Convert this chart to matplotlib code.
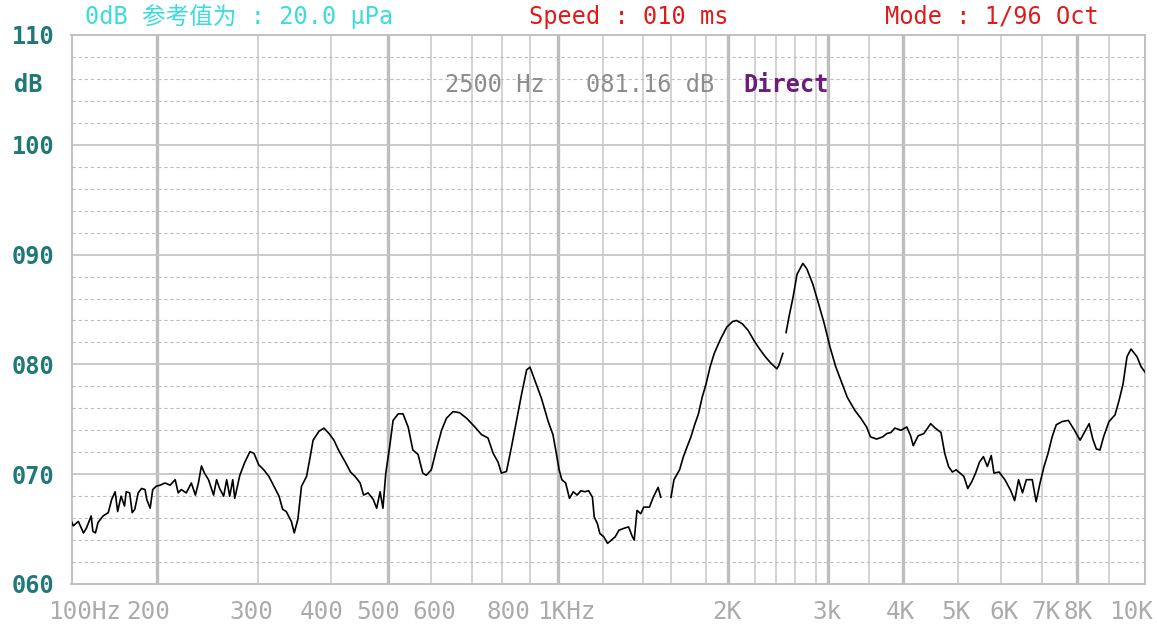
import numpy as np
import matplotlib
matplotlib.use("Agg")
import matplotlib.pyplot as plt

nan = np.nan

# analyser screen grid: frequency of each vertical line
grid_hz = [100, 200, 300, 400, 500, 600, 700, 800, 900, 1000,
           1200, 1400, 1600, 1800, 2000, 2200, 2400, 2600, 2800, 3000,
           3500, 4000, 5000, 6000, 7000, 8000, 9000, 10000]
heavy_hz = [200, 500, 1000, 2000, 3000, 4000, 8000]

tick_hz = [100, 200, 300, 400, 500, 600, 800, 1000, 2000, 3000,
           4000, 5000, 6000, 7000, 8000, 10000]
tick_txt = ["100Hz", "200", "300", "400", "500", "600", "800", "1KHz", "2K", "3k",
            "4K", "5K", "6K", "7K", "8K", "10K"]

ytick_db = [60, 70, 80, 90, 100, 110]
ytick_txt = ["060", "070", "080", "090", "100", "110"]

# measured spectrum (1/96 oct), nan = gap in trace
freq_hz = [100, 102, 108, 114, 117.5, 123, 125, 128, 131, 137, 143, 147, 151, 154, 158, 162,
           164, 168, 171, 174, 178, 182, 186, 188, 192, 195, 199, 203, 208, 213, 218, 221,
           224, 229, 234, 238, 241, 244, 247, 251, 256, 259, 262, 266, 269, 272, 275, 277,
           282, 287, 292, 296, 301, 308, 315, 322, 329, 334, 339, 346, 350, 355, 360, 367,
           372, 376, 384, 391, 398, 406, 414, 426, 435, 443, 452, 458, 466, 475, 481, 487,
           492, 497, 505, 513, 525, 536, 548, 559, 571, 582, 590, 602, 614, 627, 639, 655,
           671, 688, 711, 733, 754, 771, 787, 798, 816, 834, 852, 870, 888, 900, 918, 941,
           965, 982, 994,
           1005, 1017, 1034, 1051, 1068, 1085, 1102, 1119, 1136, 1153, 1161, 1175, 1186,
           1204, 1223, 1242, 1261, 1280, 1309, 1328, 1347, 1356, 1370, 1389, 1405, 1446,
           1473, 1508, 1527, 1560,
           1600, 1617, 1649, 1671, 1692, 1714, 1735, 1757, 1778, 1800, 1838, 1875, 1932,
           1989, 2034, 2063, 2106, 2149, 2191, 2244, 2298, 2353, 2409, 2430, 2472, 2490,
           2506, 2536, 2579, 2619, 2675, 2713, 2770, 2844, 2938, 3024, 3095, 3167, 3238,
           3286, 3333, 3405, 3476, 3529, 3618, 3706, 3765, 3824, 3882, 3971, 4069, 4138,
           4186, 4276, 4379, 4503, 4586, 4690, 4759, 4828, 4897, 4966, 5045, 5136, 5227,
           5318, 5409, 5500, 5591, 5682, 5773, 5836, 5955, 6095, 6238, 6333, 6429, 6524,
           6619, 6762, 6857, 6952, 7059, 7176, 7294, 7412, 7588, 7765, 7941, 8111, 8278,
           8389, 8500, 8611, 8722, 8833, 9000, 9167, 9278, 9389, 9500, 9611, 9778, 9889,
           10000]
level_db = [65.7, 65.3, 65.7, 64.65, 65.1, 66.2, 64.8, 64.65, 65.6, 66.2, 66.5, 67.7, 68.4, 66.6, 68.0, 67.1,
            68.4, 68.3, 66.5, 66.8, 68.3, 68.7, 68.6, 67.7, 66.9, 68.6, 68.9, 69.0, 69.2, 69.0, 69.5, 68.3,
            68.6, 68.3, 69.2, 68.1, 69.2, 70.75, 70.1, 69.5, 68.1, 69.5, 68.7, 68.0, 69.5, 68.0, 69.5, 67.8,
            69.9, 71.1, 72.05, 71.9, 70.85, 70.4, 69.8, 68.9, 68.0, 66.8, 66.6, 65.7, 64.65, 65.9, 68.9, 69.8,
            71.6, 73.1, 73.9, 74.2, 73.7, 73.1, 72.2, 71.1, 70.2, 69.8, 69.2, 68.1, 68.3, 67.7, 66.9, 68.4,
            66.9, 70.1, 72.5, 74.9, 75.5, 75.5, 74.3, 72.2, 71.8, 70.1, 69.9, 70.4, 72.2, 74.0, 75.1, 75.7,
            75.6, 75.1, 74.3, 73.6, 73.3, 71.9, 71.1, 70.1, 70.25, 72.5, 74.9, 77.3, 79.5, 79.75, 78.5, 76.9,
            74.8, 73.6, 71.9,
            70.4, 69.5, 69.2, 67.8, 68.4, 68.1, 68.5, 68.4, 68.5, 67.9, 66.1, 65.5, 64.6,
            64.3, 63.7, 64.0, 64.3, 64.9, 65.1, 65.2, 64.3, 64.0, 66.7, 66.4, 67.0, 67.0,
            67.9, 68.8, 67.9, nan,
            67.9, 69.5, 70.4, 71.6, 72.5, 73.4, 74.5, 75.5, 77.0, 78.2, 79.8, 81.0, 82.3,
            83.4, 83.9, 84.0, 83.7, 83.1, 82.2, 81.4, 80.7, 80.1, 79.6, 79.9, 81.0, nan,
            82.9, 84.3, 86.1, 88.2, 89.2, 88.7, 87.3, 85.5, 83.7, 81.6, 79.8, 78.4, 77.0,
            76.4, 75.8, 75.1, 74.3, 73.4, 73.2, 73.4, 73.7, 73.8, 74.2, 74.0, 74.3, 73.5,
            72.6, 73.5, 73.7, 74.6, 74.2, 73.8, 71.9, 70.7, 70.2, 70.4, 70.1, 69.8, 68.7,
            69.3, 70.1, 71.1, 71.6, 70.7, 71.7, 70.1, 70.2, 69.5, 68.5, 67.6, 69.5, 68.3,
            69.5, 69.5, 67.5, 69.2, 70.7, 71.9, 73.4, 74.5, 74.8, 74.9, 74.0, 73.1, 74.0,
            74.6, 73.2, 72.3, 72.2, 73.4, 74.8, 75.4, 76.7, 78.2, 80.7, 81.4, 80.7, 79.8,
            79.3]

W, H = 1157, 627
# horizontal screen position of each grid line (the analyser's own non-log scale)
grid_px = [71.5, 157, 258, 330.5, 387.5, 430.5, 471.5, 502, 530, 558,
           603, 643, 671, 706, 728, 755, 776, 795, 816, 828,
           868.5, 903, 958, 1001, 1042, 1076.5, 1109, 1145]


def fwd(f):
    return np.interp(f, grid_hz, grid_px)


def inv(p):
    return np.interp(p, grid_px, grid_hz)


mono = "DejaVu Sans Mono"
gcol = "#c6c6c6"

fig = plt.figure(figsize=(W / 100, H / 100), dpi=100)
ax = fig.add_axes([71.5 / W, 1 - 584 / H, (1145 - 71.5) / W, (584 - 35) / H])
ax.set_xscale("function", functions=(fwd, inv))
ax.set_xlim(100, 10000)
ax.set_ylim(60, 110)

for f in grid_hz[1:-1]:
    ax.axvline(f, color="#bdbdbd" if f in heavy_hz else gcol,
               lw=2.4 if f in heavy_hz else 1.1, zorder=1)
for d in range(62, 110, 2):
    if d % 10 == 0:
        ax.axhline(d, color=gcol, lw=1.3, zorder=1)
    else:
        ax.axhline(d, color="#bdbdbd", lw=0.8, ls=(0, (3, 2.5)), zorder=1)

for s in ax.spines.values():
    s.set_color("#bcbcbc")
    s.set_linewidth(1.3)

ax.plot(freq_hz, level_db, color="black", lw=1.2, zorder=3)

# y labels
ax.set_yticks(ytick_db)
ax.set_yticklabels(ytick_txt, fontfamily=mono, fontweight="bold", fontsize=17, color="#207878")
ax.tick_params(axis="y", length=0, pad=12)
fig.text(28 / W, 1 - 85 / H, "dB", fontfamily=mono, fontweight="bold", fontsize=17,
         color="#207878", ha="center", va="center")

# x labels (screen text sits a little off the grid lines)
ax.set_xticks([])
lab_shift = [13, -9, -7, -9, -9, 4, 6, 8, -1, -1, -3, -2, 3, 4, 1.5, -14]
for f, t, dx in zip(tick_hz, tick_txt, lab_shift):
    ax.annotate(t, xy=(f, 0), xycoords=("data", "axes fraction"),
                xytext=(dx, -28), textcoords="offset pixels",
                ha="center", va="center", fontfamily=mono, fontsize=17.5, color="#ababab",
                annotation_clip=False)

# header
fig.text(85 / W, 1 - 17 / H, "0dB 参考值为 : 20.0 μPa", fontfamily=[mono, "Noto Sans CJK SC"],
         fontsize=17, color="#3ddcdc", ha="left", va="center")
fig.text(529 / W, 1 - 17 / H, "Speed : 010 ms", fontfamily=mono, fontsize=17,
         color="#e01a1a", ha="left", va="center")
fig.text(885 / W, 1 - 17 / H, "Mode : 1/96 Oct", fontfamily=mono, fontsize=17,
         color="#e01a1a", ha="left", va="center")

# cursor readout
fig.text(445 / W, 1 - 85 / H, "2500 Hz", fontfamily=mono, fontsize=17,
         color="#8c8c8c", ha="left", va="center")
fig.text(586 / W, 1 - 85 / H, "081.16 dB", fontfamily=mono, fontsize=17,
         color="#8c8c8c", ha="left", va="center")
fig.text(743 / W, 1 - 85 / H, "Direct", fontfamily=mono, fontsize=17, fontweight="bold",
         color="#6a1e7a", ha="left", va="center")

fig.savefig("out.png", dpi=100)
